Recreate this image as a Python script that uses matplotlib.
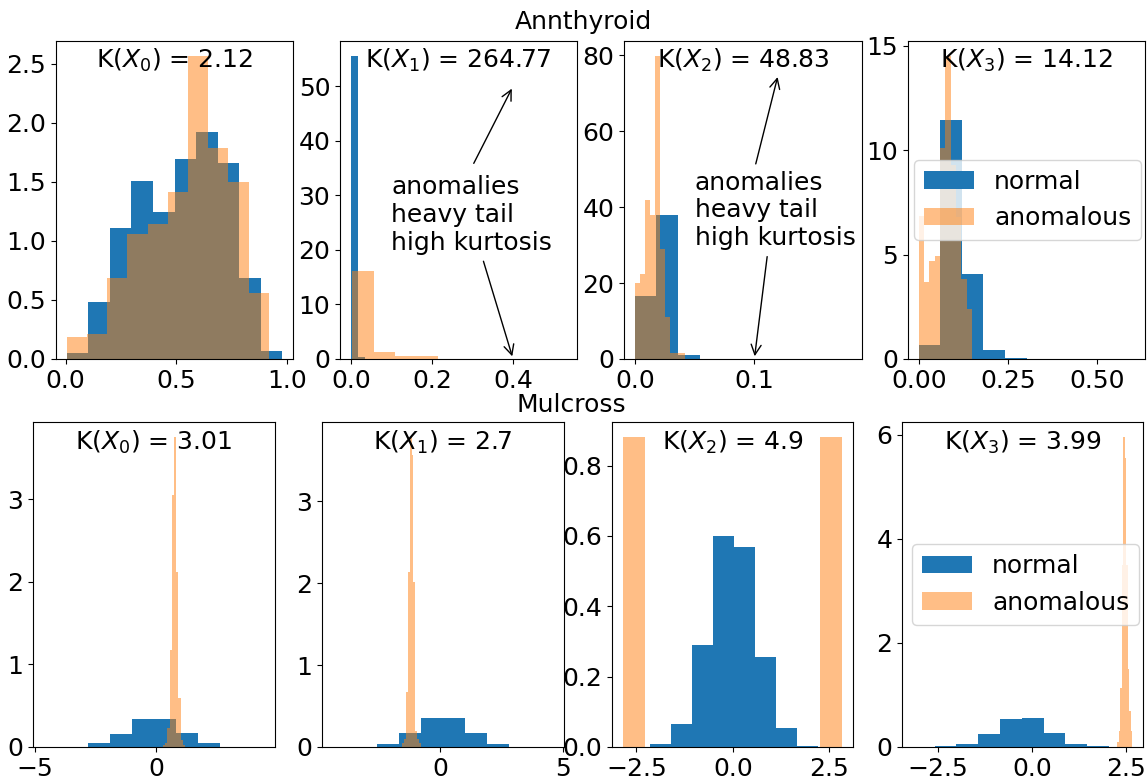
import matplotlib
matplotlib.use("Agg")
import matplotlib.pyplot as plt
import numpy as np

plt.rcParams['font.size'] = 18

# bin ranges (lo, hi) and density heights, 10 bins each
ann_norm_range = [(0.005, 0.978), (0.0, 0.18), (0.0, 0.181), (0.0, 0.605)]
ann_anom_range = [(0.005, 0.917), (0.004, 0.531), (0.0, 0.0417), (0.0, 0.149)]
ann_norm = [
    [0.05, 0.479, 1.11, 1.506, 1.242, 1.693, 1.921, 1.662, 0.687, 0.07],
    [55.5, 0.3, 0.02, 0.01, 0.01, 0.01, 0.01, 0.01, 0.01, 0.01],
    [16.5, 38.0, 1.1, 0.05, 0.03, 0.02, 0.02, 0.02, 0.01, 0.01],
    [0.69, 11.43, 4.08, 0.45, 0.06, 0.02, 0.01, 0.01, 0.01, 0.01],
]
ann_anom = [
    [0.19, 0.208, 0.687, 1.06, 1.144, 1.414, 2.563, 1.786, 1.5, 0.558],
    [16.2, 1.2, 0.5, 0.6, 0.04, 0.04, 0.04, 0.04, 0.04, 0.04],
    [20.0, 22.5, 42.0, 38.0, 79.8, 29.0, 11.0, 1.5, 1.5, 1.5],
    [6.83, 3.67, 4.68, 4.91, 10.1, 14.5, 9.3, 6.8, 3.83, 2.41],
]
ann_kurt = ["2.12", "264.77", "48.83", "14.12"]

mul_norm_range = [(-4.62, 4.47), (-4.33, 4.58), (-2.70, 2.74), (-3.17, 2.63)]
mul_anom_range = [(0.30, 1.20), (-1.52, -0.77), (-2.85, 2.83), (2.27, 2.67)]
mul_norm = [
    [0.003, 0.003, 0.045, 0.16, 0.345, 0.34, 0.165, 0.045, 0.003, 0.003],
    [0.006, 0.006, 0.04, 0.175, 0.355, 0.355, 0.165, 0.033, 0.006, 0.003],
    [0.001, 0.008, 0.066, 0.29, 0.60, 0.568, 0.256, 0.055, 0.004, 0.001],
    [0.005, 0.01, 0.05, 0.245, 0.54, 0.555, 0.275, 0.051, 0.01, 0.003],
]
mul_anom = [
    [0.02, 0.05, 0.23, 1.18, 3.05, 3.75, 2.12, 0.59, 0.09, 0.02],
    [0.05, 0.1, 0.67, 2.14, 3.78, 3.57, 2.02, 0.2, 0.1, 0.05],
    [0.88, 0.0, 0.0, 0.0, 0.0, 0.0, 0.0, 0.0, 0.0, 0.88],
    [0.1, 0.3, 1.13, 3.5, 5.95, 5.56, 3.5, 1.5, 0.7, 0.3],
]
mul_kurt = ["3.01", "2.7", "4.9", "3.99"]

W, H = 1148, 776
fig = plt.figure(figsize=(W / 100, H / 100), dpi=100)

# axes boxes in pixels: left, right, top, bottom
row1 = [(56, 293), (340, 577), (624, 862), (908, 1145)]
row2 = [(33, 275), (322, 564), (612, 853), (902, 1143)]


def make_ax(l, r, t, b):
    return fig.add_axes([l / W, (H - b) / H, (r - l) / W, (b - t) / H])


def draw(ax, nr, nh, ar, ah, kurt, i):
    e1 = np.linspace(nr[0], nr[1], len(nh) + 1)
    e2 = np.linspace(ar[0], ar[1], len(ah) + 1)
    ax.hist(e1[:-1], bins=e1, weights=nh, color='C0', label='normal')
    ax.hist(e2[:-1], bins=e2, weights=ah, color='C1', alpha=0.5, label='anomalous')
    ax.text(0.5, 0.915, r'K($X_%d$) = %s' % (i, kurt), transform=ax.transAxes,
            ha='center', va='baseline')


axes1 = []
for i, (l, r) in enumerate(row1):
    ax = make_ax(l, r, 41, 359)
    draw(ax, ann_norm_range[i], ann_norm[i], ann_anom_range[i], ann_anom[i], ann_kurt[i], i)
    axes1.append(ax)

axes2 = []
for i, (l, r) in enumerate(row2):
    ax = make_ax(l, r, 422, 747)
    draw(ax, mul_norm_range[i], mul_norm[i], mul_anom_range[i], mul_anom[i], mul_kurt[i], i)
    axes2.append(ax)

# annotations (text baseline = last line)
txt = "anomalies\nheavy tail\nhigh kurtosis"
ax = axes1[1]
ax.text(0.1, 20, txt)
ax.annotate("", xy=(0.4, 50), xytext=(0.30, 35.4), arrowprops=dict(arrowstyle='->'))
ax.annotate("", xy=(0.4, 0), xytext=(0.325, 18.4), arrowprops=dict(arrowstyle='->'))
ax = axes1[2]
ax.text(0.05, 30, txt)
ax.annotate("", xy=(0.12, 75), xytext=(0.1006, 50.7), arrowprops=dict(arrowstyle='->'))
ax.annotate("", xy=(0.1, 0), xytext=(0.111, 27.7), arrowprops=dict(arrowstyle='->'))

axes1[3].legend(loc='center right', borderaxespad=0.15)
axes2[3].legend(loc='center right', borderaxespad=0.15)

fig.text(583 / W, 1 - 29 / H, "Annthyroid", ha='center', va='baseline')
fig.text(571 / W, 1 - 412 / H, "Mulcross", ha='center', va='baseline')

fig.savefig("out.png", dpi=100)
